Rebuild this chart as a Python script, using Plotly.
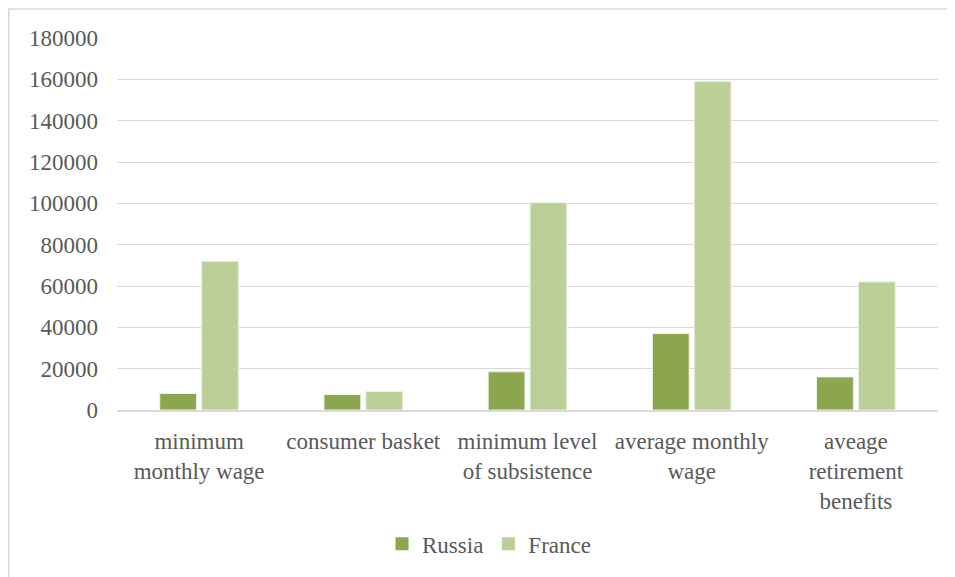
import plotly.graph_objects as go

categories = ["minimum<br>monthly wage", "consumer basket", "minimum level<br>of subsistence",
              "average monthly<br>wage", "aveage<br>retirement<br>benefits"]
russia = [8000, 7500, 18500, 37000, 16000]
france = [72000, 9000, 100300, 159000, 62000]
y_ticks = [0, 20000, 40000, 60000, 80000, 100000, 120000, 140000, 160000, 180000]

# the page body adds an 8px offset; figure sized to fit the window
W, H = 947, 569
L, R, T, B = 109, 17, 30, 164
pw, ph = W - L - R, H - T - B

def px_x(x):
    return (x - L) / pw

def px_y(y):
    return (H - B - y) / ph

font = dict(family="Liberation Serif, Times New Roman, serif", size=23, color="#595959")
c_ru, c_fr = "#8ba64f", "#bbcf96"

fig = go.Figure()
fig.add_trace(go.Bar(name="Russia", x=categories, y=russia, showlegend=False,
                     marker=dict(color=c_ru, line=dict(color="#eef3e6", width=1))))
fig.add_trace(go.Bar(name="France", x=categories, y=france, showlegend=False,
                     marker=dict(color=c_fr, line=dict(color="#eef3e6", width=1))))
# legend entries with larger square swatches
fig.add_trace(go.Scatter(name="Russia", x=[None], y=[None], mode="markers",
                         marker=dict(symbol="square", size=13, color=c_ru)))
fig.add_trace(go.Scatter(name="France", x=[None], y=[None], mode="markers",
                         marker=dict(symbol="square", size=13, color=c_fr)))

fig.update_layout(
    width=W, height=H,
    margin=dict(l=L, r=R, t=T, b=B, pad=0),
    paper_bgcolor="white", plot_bgcolor="white",
    font=font,
    barmode="group", bargap=0.49, bargroupgap=0.12,
    showlegend=True,
    legend=dict(orientation="h", x=px_x(481), xanchor="center", y=px_y(540), yanchor="middle",
                font=font, itemwidth=30, tracegroupgap=0, bgcolor="rgba(0,0,0,0)"),
    xaxis=dict(showline=True, linecolor="#d9d9d9", linewidth=1.5, ticks="",
               tickfont=font, ticklabelstandoff=10, showgrid=False),
    yaxis=dict(range=[0, 180000], tickvals=y_ticks, ticktext=[str(v) for v in y_ticks],
               showgrid=True, gridcolor="#d9d9d9", gridwidth=1.3, zeroline=False,
               showline=False, ticks="", tickfont=font, ticklabelstandoff=18),
    shapes=[dict(type="rect", xref="paper", yref="paper",
                 x0=px_x(0.8), x1=px_x(1000), y0=px_y(700), y1=px_y(0.8),
                 line=dict(color="#d9d9d9", width=1.5), fillcolor="rgba(0,0,0,0)", layer="below")],
)

fig.write_html("out.html")
